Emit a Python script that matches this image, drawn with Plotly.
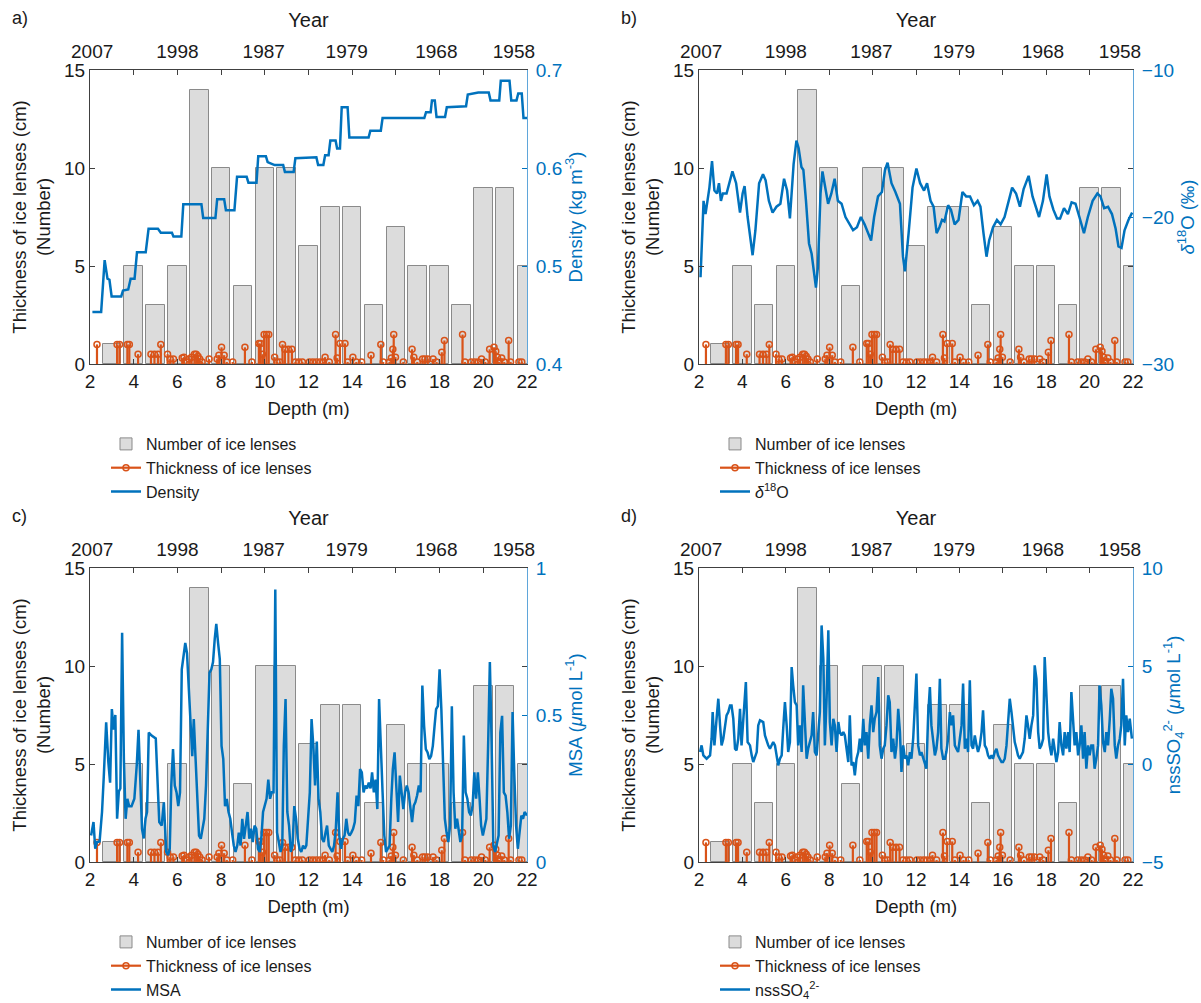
import plotly.graph_objects as go

# ---------------- data ----------------
BAR_DEPTH = [3, 4, 5, 6, 7, 8, 9, 10, 11, 12, 13, 14, 15, 16, 17, 18, 19, 20, 21, 22]
BAR_COUNT = [1, 5, 3, 5, 14, 10, 4, 10, 10, 6, 8, 8, 3, 7, 5, 5, 3, 9, 9, 5]

STEM_DEPTH = [2.32, 3.24, 3.35, 3.71, 3.80, 4.20, 4.79, 4.95, 5.11, 5.24,
              5.55, 5.67, 5.82, 6.22, 6.30, 6.43, 6.54, 6.65, 6.78, 6.86,
              6.94, 7.02, 7.13, 7.45, 7.82, 7.90, 8.02, 8.14, 8.26, 8.53,
              9.09, 9.41, 9.73, 9.81, 9.89, 9.97, 10.08, 10.18, 10.45, 10.56,
              10.69, 10.81, 10.92, 11.08, 11.24, 11.40, 11.56, 11.72, 12.04, 12.20,
              12.36, 12.52, 12.68, 12.76, 12.95, 13.24, 13.31, 13.44, 13.67, 13.79,
              14.03, 14.19, 14.43, 14.86, 15.31, 15.42, 15.71, 15.79, 15.86, 15.90,
              15.98, 16.34, 16.74, 16.82, 16.98, 17.22, 17.33, 17.46, 17.70, 17.86,
              18.10, 18.22, 19.05, 19.16, 19.45, 19.61, 19.77, 19.92, 20.09, 20.29,
              20.49, 20.57, 20.65, 20.72, 20.84, 20.96, 21.16, 21.25, 21.63, 21.76]
STEM_THICK = [1.0, 1.0, 1.0, 1.0, 1.0, 0.5, 0.5, 0.5, 0.5, 1.0,
              0.5, 0.25, 0.25, 0.3, 0.35, 0.1, 0.25, 0.35, 0.5, 0.5,
              0.4, 0.25, 0.1, 0.25, 0.25, 0.45, 0.85, 0.45, 0.1, 0.1,
              0.85, 0.1, 1.05, 1.05, 0.5, 1.5, 1.5, 1.5, 0.35, 0.1,
              0.1, 1.0, 0.75, 0.75, 0.75, 0.1, 0.1, 0.1, 0.1, 0.1,
              0.1, 0.1, 0.1, 0.35, 0.1, 1.5, 0.3, 1.05, 1.05, 0.1,
              0.35, 0.1, 0.1, 0.45, 1.0, 0.1, 0.1, 0.3, 0.75, 1.5,
              0.35, 0.1, 0.75, 0.35, 0.1, 0.25, 0.25, 0.25, 0.25, 0.1,
              0.6, 1.2, 1.5, 0.1, 0.1, 0.1, 0.1, 0.25, 0.1, 0.75,
              0.85, 0.65, 0.35, 0.1, 0.3, 0.1, 1.2, 0.1, 0.1, 0.1]

YEAR_POS = [2.1, 6.0, 9.95, 13.75, 17.85, 21.4]
YEAR_LABELS = ["2007", "1998", "1987", "1979", "1968", "1958"]
DEPTH_TICKS = [2, 4, 6, 8, 10, 12, 14, 16, 18, 20, 22]

DENS_DEPTH = [2.11, 2.51, 2.67, 2.80, 2.89, 2.99, 3.43, 3.51, 3.75, 3.86,
              4.04, 4.15, 4.55, 4.68, 5.11, 5.24, 5.75, 5.82, 6.18, 6.27,
              7.10, 7.18, 7.74, 7.82, 8.14, 8.22, 8.61, 8.73, 9.17, 9.25,
              9.62, 9.70, 10.05, 10.13, 10.29, 10.45, 10.84, 10.92, 11.32, 11.40,
              12.36, 12.44, 12.68, 12.76, 12.92, 13.00, 13.24, 13.31, 13.44, 13.52,
              13.79, 13.87, 14.75, 14.83, 15.31, 15.39, 17.30, 17.38, 17.59, 17.65,
              17.78, 17.86, 18.25, 18.33, 19.21, 19.29, 19.77, 20.25, 20.33, 20.73,
              20.80, 21.20, 21.28, 21.52, 21.60, 21.76, 21.84, 22.0]
DENS_VAL = [0.453, 0.453, 0.506, 0.487, 0.486, 0.469, 0.469, 0.475, 0.476, 0.487,
            0.487, 0.514, 0.514, 0.538, 0.538, 0.534, 0.534, 0.530, 0.530, 0.563,
            0.563, 0.549, 0.549, 0.568, 0.568, 0.557, 0.557, 0.591, 0.591, 0.585,
            0.585, 0.612, 0.612, 0.606, 0.6045, 0.603, 0.603, 0.596, 0.596, 0.610,
            0.611, 0.603, 0.603, 0.613, 0.613, 0.628, 0.628, 0.620, 0.620, 0.662,
            0.662, 0.631, 0.631, 0.638, 0.638, 0.651, 0.651, 0.657, 0.657, 0.669,
            0.669, 0.652, 0.652, 0.662, 0.663, 0.675, 0.677, 0.677, 0.669, 0.669,
            0.689, 0.689, 0.669, 0.669, 0.676, 0.676, 0.651, 0.651]

D18O_DEPTH = [2.07, 2.21, 2.30, 2.39, 2.48, 2.60, 2.71, 2.83, 2.92, 3.01,
              3.10, 3.27, 3.40, 3.54, 3.71, 3.89, 4.01, 4.10, 4.24, 4.47,
              4.60, 4.77, 4.95, 5.07, 5.22, 5.39, 5.57, 5.75, 5.92, 6.06,
              6.19, 6.28, 6.36, 6.49, 6.59, 6.72, 6.81, 6.93, 7.07, 7.19,
              7.30, 7.39, 7.48, 7.60, 7.69, 7.83, 7.95, 8.10, 8.25, 8.40,
              8.57, 8.75, 8.93, 9.10, 9.28, 9.46, 9.63, 9.81, 9.93, 10.07,
              10.25, 10.43, 10.57, 10.69, 10.87, 11.05, 11.26, 11.40, 11.49, 11.66,
              11.84, 12.02, 12.19, 12.37, 12.51, 12.67, 12.81, 12.95, 13.08, 13.20,
              13.31, 13.48, 13.61, 13.78, 13.96, 14.14, 14.31, 14.49, 14.67, 14.84,
              14.97, 15.11, 15.25, 15.37, 15.55, 15.73, 15.90, 16.08, 16.26, 16.43,
              16.61, 16.79, 16.96, 17.19, 17.37, 17.49, 17.67, 17.85, 18.02, 18.15,
              18.33, 18.50, 18.64, 18.82, 19.00, 19.17, 19.35, 19.53, 19.74, 19.92,
              20.14, 20.36, 20.50, 20.67, 20.85, 21.03, 21.20, 21.33, 21.47, 21.61,
              21.79, 21.96]
D18O_VAL = [-24.1, -18.9, -19.8, -18.9, -18.0, -16.2, -18.2, -18.4, -17.7, -18.9,
            -18.4, -18.4, -17.7, -16.9, -17.7, -19.7, -18.4, -17.9, -20.0, -22.6,
            -20.9, -17.7, -17.1, -17.5, -18.9, -19.7, -19.3, -19.1, -17.4, -18.2,
            -20.1, -18.4, -16.4, -14.8, -15.3, -16.6, -16.8, -18.9, -21.8, -22.5,
            -23.9, -24.8, -23.4, -18.4, -16.9, -18.0, -19.1, -18.4, -17.4, -18.9,
            -19.1, -20.0, -20.5, -20.9, -20.7, -20.0, -20.5, -21.2, -21.6, -20.0,
            -18.6, -18.3, -16.8, -16.3, -17.7, -18.3, -19.1, -22.7, -23.7, -21.1,
            -18.0, -16.7, -17.7, -18.2, -17.7, -18.9, -19.3, -21.1, -20.7, -20.2,
            -20.3, -19.2, -19.5, -20.5, -20.2, -18.3, -18.6, -18.6, -19.2, -18.9,
            -19.3, -21.1, -22.7, -21.6, -20.7, -20.2, -20.5, -20.0, -18.9, -18.0,
            -18.4, -19.3, -18.1, -17.2, -18.6, -19.1, -20.0, -18.9, -17.1, -18.6,
            -19.5, -20.1, -20.1, -19.4, -19.8, -19.0, -19.1, -20.0, -21.1, -20.0,
            -18.9, -18.4, -18.6, -19.4, -19.3, -19.8, -20.8, -22.0, -22.1, -20.9,
            -20.2, -19.7]

MSA_DEPTH = [2.05, 2.16, 2.24, 2.32, 2.44, 2.55, 2.63, 2.74, 2.84, 2.92,
             3.00, 3.08, 3.16, 3.24, 3.32, 3.39, 3.47, 3.55, 3.63, 3.71,
             3.79, 3.90, 4.03, 4.14, 4.22, 4.30, 4.38, 4.46, 4.54, 4.61,
             4.69, 4.82, 5.01, 5.17, 5.28, 5.38, 5.49, 5.57, 5.65, 5.72,
             5.80, 5.88, 5.96, 6.04, 6.12, 6.20, 6.28, 6.36, 6.44, 6.52,
             6.60, 6.68, 6.75, 6.83, 6.91, 6.99, 7.07, 7.15, 7.23, 7.31,
             7.39, 7.47, 7.55, 7.63, 7.71, 7.78, 7.86, 7.94, 8.02, 8.10,
             8.18, 8.26, 8.34, 8.42, 8.50, 8.58, 8.66, 8.74, 8.81, 8.89,
             8.97, 9.05, 9.13, 9.21, 9.29, 9.37, 9.45, 9.53, 9.61, 9.69,
             9.77, 9.85, 9.92, 10.00, 10.08, 10.16, 10.24, 10.32, 10.40, 10.48,
             10.56, 10.64, 10.72, 10.80, 10.87, 10.95, 11.03, 11.11, 11.19, 11.27,
             11.35, 11.43, 11.51, 11.59, 11.67, 11.75, 11.83, 11.90, 11.98, 12.06,
             12.14, 12.22, 12.30, 12.38, 12.46, 12.54, 12.62, 12.70, 12.78, 12.85,
             12.93, 13.01, 13.09, 13.17, 13.25, 13.33, 13.41, 13.49, 13.57, 13.65,
             13.73, 13.81, 13.88, 13.96, 14.04, 14.12, 14.20, 14.28, 14.36, 14.44,
             14.52, 14.60, 14.68, 14.76, 14.84, 14.91, 14.99, 15.07, 15.15, 15.23,
             15.31, 15.39, 15.47, 15.55, 15.63, 15.71, 15.79, 15.86, 15.94, 16.02,
             16.10, 16.18, 16.26, 16.34, 16.42, 16.50, 16.58, 16.66, 16.74, 16.82,
             16.89, 16.97, 17.05, 17.13, 17.21, 17.29, 17.37, 17.45, 17.53, 17.61,
             17.69, 17.77, 17.84, 17.92, 18.00, 18.08, 18.16, 18.24, 18.32, 18.40,
             18.48, 18.56, 18.64, 18.72, 18.80, 18.87, 18.95, 19.03, 19.11, 19.19,
             19.27, 19.35, 19.43, 19.51, 19.59, 19.67, 19.75, 19.83, 19.90, 19.98,
             20.06, 20.14, 20.22, 20.30, 20.38, 20.46, 20.54, 20.62, 20.70, 20.78,
             20.86, 20.94, 21.02, 21.10, 21.18, 21.26, 21.34, 21.42, 21.50, 21.58,
             21.66, 21.74, 21.82, 21.89, 22.00]
MSA_VAL = [0.09, 0.136, 0.045, 0.068, 0.07, 0.17, 0.29, 0.475, 0.34, 0.27,
           0.52, 0.45, 0.50, 0.147, 0.24, 0.25, 0.78, 0.35, 0.147, 0.215,
           0.19, 0.19, 0.215, 0.33, 0.45, 0.237, 0.113, 0.08, 0.147, 0.17,
           0.44, 0.43, 0.42, 0.136, 0.124, 0.203, 0.034, 0.023, 0.045, 0.26,
           0.384, 0.26, 0.237, 0.19, 0.237, 0.655, 0.71, 0.745, 0.71, 0.59,
           0.46, 0.36, 0.486, 0.35, 0.17, 0.09, 0.079, 0.113, 0.147, 0.26,
           0.44, 0.644, 0.655, 0.68, 0.76, 0.81, 0.746, 0.69, 0.395, 0.35,
           0.19, 0.215, 0.17, 0.147, 0.10, 0.056, 0.034, 0.056, 0.10, 0.056,
           0.147, 0.079, 0.124, 0.17, 0.079, 0.113, 0.068, 0.124, 0.113, 0.045,
           0.034, 0.09, 0.17, 0.19, 0.215, 0.28, 0.215, 0.237, 0.237, 0.927,
           0.10, 0.068, 0.034, 0.056, 0.395, 0.554, 0.17, 0.124, 0.034, 0.056,
           0.19, 0.147, 0.079, 0.045, 0.034, 0.056, 0.045, 0.056, 0.136, 0.237,
           0.486, 0.395, 0.26, 0.41, 0.215, 0.17, 0.079, 0.068, 0.10, 0.124,
           0.056, 0.045, 0.034, 0.056, 0.113, 0.237, 0.09, 0.045, 0.079, 0.09,
           0.147, 0.10, 0.09, 0.10, 0.113, 0.136, 0.226, 0.19, 0.316, 0.305,
           0.237, 0.26, 0.25, 0.27, 0.25, 0.305, 0.237, 0.28, 0.18, 0.554,
           0.42, 0.237, 0.09, 0.034, 0.045, 0.056, 0.215, 0.316, 0.373, 0.237,
           0.136, 0.294, 0.237, 0.18, 0.237, 0.26, 0.237, 0.18, 0.136, 0.192,
           0.203, 0.226, 0.26, 0.237, 0.60, 0.463, 0.384, 0.373, 0.35, 0.36,
           0.395, 0.463, 0.52, 0.53, 0.655, 0.52, 0.35, 0.147, 0.10, 0.068,
           0.124, 0.53, 0.237, 0.113, 0.147, 0.10, 0.068, 0.09, 0.43, 0.237,
           0.215, 0.17, 0.158, 0.192, 0.305, 0.215, 0.305, 0.215, 0.124, 0.09,
           0.124, 0.147, 0.395, 0.68, 0.407, 0.056, 0.034, 0.068, 0.09, 0.44,
           0.497, 0.237, 0.226, 0.17, 0.079, 0.124, 0.51, 0.294, 0.124, 0.045,
           0.10, 0.158, 0.147, 0.17, 0.158]

SO4_DEPTH = [2.05, 2.12, 2.20, 2.35, 2.51, 2.58, 2.63, 2.71, 2.81, 2.89,
             2.97, 3.04, 3.12, 3.20, 3.27, 3.35, 3.43, 3.50, 3.58, 3.66,
             3.73, 3.81, 3.89, 3.96, 4.04, 4.12, 4.16, 4.24, 4.35, 4.43,
             4.50, 4.66, 4.73, 4.81, 4.96, 5.04, 5.12, 5.19, 5.27, 5.42,
             5.50, 5.58, 5.65, 5.73, 5.81, 5.88, 5.96, 6.04, 6.11, 6.19,
             6.27, 6.34, 6.42, 6.50, 6.57, 6.65, 6.73, 6.80, 6.88, 6.96,
             7.03, 7.11, 7.19, 7.26, 7.34, 7.42, 7.50, 7.57, 7.65, 7.73,
             7.80, 7.88, 7.96, 8.03, 8.11, 8.19, 8.26, 8.34, 8.42, 8.49,
             8.57, 8.65, 8.72, 8.80, 8.88, 8.95, 9.03, 9.11, 9.18, 9.26,
             9.34, 9.41, 9.49, 9.57, 9.64, 9.72, 9.80, 9.87, 9.95, 10.03,
             10.10, 10.18, 10.26, 10.33, 10.41, 10.49, 10.56, 10.64, 10.72, 10.79,
             10.87, 10.95, 11.03, 11.10, 11.18, 11.26, 11.33, 11.41, 11.49, 11.56,
             11.64, 11.72, 11.79, 11.87, 11.95, 12.02, 12.10, 12.18, 12.25, 12.33,
             12.41, 12.48, 12.56, 12.64, 12.71, 12.79, 12.87, 12.94, 13.02, 13.10,
             13.17, 13.25, 13.33, 13.40, 13.48, 13.56, 13.63, 13.71, 13.79, 13.86,
             13.94, 14.02, 14.10, 14.17, 14.25, 14.33, 14.40, 14.48, 14.56, 14.63,
             14.71, 14.79, 14.86, 14.94, 15.02, 15.09, 15.17, 15.25, 15.32, 15.40,
             15.48, 15.55, 15.63, 15.71, 15.78, 15.86, 15.94, 16.01, 16.09, 16.17,
             16.24, 16.32, 16.40, 16.47, 16.55, 16.63, 16.70, 16.78, 16.86, 16.93,
             17.01, 17.09, 17.16, 17.24, 17.32, 17.40, 17.47, 17.55, 17.63, 17.70,
             17.78, 17.86, 17.93, 18.01, 18.09, 18.16, 18.24, 18.32, 18.39, 18.47,
             18.55, 18.62, 18.70, 18.78, 18.85, 18.93, 19.01, 19.08, 19.16, 19.24,
             19.31, 19.39, 19.47, 19.54, 19.62, 19.70, 19.77, 19.85, 19.93, 20.00,
             20.08, 20.16, 20.23, 20.31, 20.39, 20.46, 20.54, 20.62, 20.70, 20.77,
             20.85, 20.93, 21.00, 21.08, 21.16, 21.23, 21.31, 21.39, 21.46, 21.54,
             21.62, 21.69, 21.77, 21.85, 21.95]
SO4_VAL = [0.61, 0.95, 0.44, 0.27, 0.44, 1.29, 2.65, 0.95, 2.31, 3.33,
           1.97, 0.95, 1.29, 1.97, 2.48, 2.65, 2.99, 2.99, 2.31, 0.78,
           0.70, 1.29, 2.82, 0.95, 2.48, 3.67, 4.18, 1.12, 0.95, 0.44,
           0.10, 0.61, 1.97, 2.23, 2.14, 1.46, 1.12, 0.95, 0.78, 1.12,
           0.95, 0.44, -0.07, 0.27, 0.44, 1.80, 3.16, 1.97, 0.61, 1.12,
           4.95, 4.01, 3.16, 2.99, 0.95, 1.97, 0.61, 4.01, 1.63, 0.27,
           0.78, 1.12, 1.46, 2.65, 0.61, 0.44, 1.80, 2.65, 7.07, 5.37,
           0.95, 3.33, 6.82, 2.14, 0.95, 2.31, 1.97, 0.61, 2.14, 1.63,
           1.46, 1.63, 1.46, 0.61, 0.10, 2.48, -0.07, 0.10, -0.58, 0.27,
           0.61, 1.29, 0.61, 2.31, 0.95, 1.63, 0.27, 1.97, 2.99, 1.63,
           2.31, 2.65, 4.44, 0.95, 0.27, 0.78, 0.95, 1.97, 3.50, 3.16,
           0.61, 1.29, 0.27, 0.95, 2.82, 1.63, -0.41, 0.95, 0.27, 0.44,
           -0.07, 0.61, 0.27, 1.29, 3.16, 4.61, 0.95, 0.44, 0.61, 0.27,
           -0.07, -0.24, 2.48, 3.93, 1.97, 1.29, 0.44, 0.78, 1.63, 4.35,
           0.78, 0.27, 0.27, 0.61, 1.29, 2.65, 1.97, 2.48, 0.95, 0.78,
           0.61, 1.29, 1.97, 4.10, 0.78, 1.29, 0.61, 4.27, 0.95, 0.78,
           1.46, 0.95, 0.61, 0.95, 1.63, 2.74, 0.95, 0.78, 0.44, 0.27,
           0.44, 0.27, 0.61, 0.78, 0.44, 0.27, 0.10, 0.10, 0.27, 0.95,
           1.97, 3.33, 2.65, 1.97, 1.12, 0.78, 0.44, 0.27, 0.44, 0.61,
           1.29, 2.48, 1.97, 1.29, 1.97, 2.48, 5.03, 4.35, 1.63, 0.78,
           0.95, 1.29, 5.46, 3.67, 1.63, 0.95, 0.44, 1.29, 0.78, 0.10,
           0.61, 2.14, 0.95, 0.44, 1.63, 0.78, 1.63, 0.61, 3.67, 1.97,
           0.95, 1.63, 0.44, 0.95, 1.97, 0.27, 1.63, -0.24, 0.95, 0.44,
           0.95, 0.95, -0.24, 0.27, 0.95, 4.01, 2.99, 1.12, 0.61, 1.63,
           0.95, 2.31, 3.84, 3.33, 0.95, 0.27, 0.95, 1.29, 1.97, 4.35,
           0.95, 2.48, 1.63, 2.31, 1.29]

# ---------------- style ----------------
W, H = 1201, 1003
FONT = "Liberation Sans, Arial, sans-serif"
TXT = "#1a1a1a"
AX = "#404040"
BLUE = "#0072BD"
BLUE_LINE = "#5FA6DA"
ORANGE = "#D95319"
TS = 19   # tick label size
LS = 18.5 # axis title size

PANELS = [
    dict(label="a)", box=(90, 527, 70, 364), sd=DENS_DEPTH, sv=DENS_VAL, name="Density",
         rtitle="Density (kg m<sup>-3</sup>)", rrange=[0.4, 0.7], rticks=[0.4, 0.5, 0.6, 0.7], rstand=6),
    dict(label="b)", box=(699, 1133, 70, 364), sd=D18O_DEPTH, sv=D18O_VAL, name="<i>δ</i><sup>18</sup>O",
         rtitle="<i>δ</i><sup>18</sup>O (‰)", rrange=[-30, -10], rticks=[-30, -20, -10], rstand=4),
    dict(label="c)", box=(90, 527, 568, 862), sd=MSA_DEPTH, sv=MSA_VAL, name="MSA",
         rtitle="MSA (<i>μ</i>mol L<sup>-1</sup>)", rrange=[0, 1], rticks=[0, 0.5, 1], rstand=6),
    dict(label="d)", box=(699, 1133, 568, 862), sd=SO4_DEPTH, sv=SO4_VAL, name="nssSO<sub>4</sub><sup>2-</sup>",
         rtitle="nssSO<sub>4</sub><sup>2-</sup> (<i>μ</i>mol L<sup>-1</sup>)", rrange=[-5, 10], rticks=[-5, 0, 5, 10], rstand=4),
]

fig = go.Figure()
layout = {}
annotations = []

for i, p in enumerate(PANELS):
    n = i + 1
    xb = "x" if n == 1 else f"x{n}"
    yl = "y" if n == 1 else f"y{n}"
    yr = f"y{n + 4}"
    xt = f"x{n + 4}"
    leg = "legend" if n == 1 else f"legend{n}"
    x0, x1, y0, y1 = p["box"]

    fig.add_trace(go.Bar(x=BAR_DEPTH, y=BAR_COUNT, xaxis=xb, yaxis=yl, width=0.85,
                         marker=dict(color="#DCDCDC", line=dict(color="#8A8A8A", width=1)),
                         name="Number of ice lenses", legend=leg))
    sx, sy = [], []
    for d, t in zip(STEM_DEPTH, STEM_THICK):
        sx += [d, d, None]
        sy += [0, t, None]
    fig.add_trace(go.Scatter(x=sx, y=sy, mode="lines", xaxis=xb, yaxis=yl,
                             line=dict(color=ORANGE, width=2.2), showlegend=False, hoverinfo="skip"))
    fig.add_trace(go.Scatter(x=STEM_DEPTH, y=STEM_THICK, mode="markers", xaxis=xb, yaxis=yl,
                             marker=dict(symbol="circle-open", size=6, color=ORANGE, line=dict(width=1.5)),
                             showlegend=False))
    fig.add_trace(go.Scatter(x=[None], y=[None], mode="lines+markers", xaxis=xb, yaxis=yl,
                             line=dict(color=ORANGE, width=2.2),
                             marker=dict(symbol="circle-open", size=6, color=ORANGE, line=dict(width=1.5)),
                             name="Thickness of ice lenses", legend=leg))
    # blue series drawn on the (top year axis, right axis) pair: same depth range as bottom axis
    fig.add_trace(go.Scatter(x=p["sd"], y=p["sv"], mode="lines", xaxis=xt, yaxis=yr,
                             line=dict(color=BLUE, width=2.5), name=p["name"], legend=leg))

    tickfont = dict(family=FONT, size=TS, color=TXT)
    layout["xaxis" if n == 1 else f"xaxis{n}"] = dict(
        domain=[x0 / W, x1 / W], anchor=yl, range=[2, 22], tickvals=DEPTH_TICKS,
        ticks="inside", ticklen=5, tickcolor=AX, mirror="ticks", showline=True,
        linecolor=AX, linewidth=1, showgrid=False, zeroline=False, tickfont=tickfont,
        automargin=False,
        title=dict(text="Depth (m)", font=dict(family=FONT, size=LS, color=TXT), standoff=11))
    layout["yaxis" if n == 1 else f"yaxis{n}"] = dict(
        domain=[1 - y1 / H, 1 - y0 / H], anchor=xb, range=[0, 15], tickvals=[0, 5, 10, 15],
        ticks="inside", ticklen=5, tickcolor=AX, mirror="ticks", showline=True,
        linecolor=AX, linewidth=1, showgrid=False, zeroline=False, tickfont=tickfont,
        automargin=False,
        title=dict(text="Thickness of ice lenses (cm)<br>(Number)",
                   font=dict(family=FONT, size=LS, color=TXT), standoff=8))
    layout[f"yaxis{n + 4}"] = dict(
        overlaying=yl, anchor=xb, side="right", range=p["rrange"], tickvals=p["rticks"],
        ticks="inside", ticklen=5, tickcolor=BLUE, showline=True, linecolor=BLUE_LINE,
        linewidth=1, showgrid=False, zeroline=False, automargin=False, ticklabelstandoff=4,
        tickfont=dict(family=FONT, size=TS, color=BLUE),
        title=dict(text=p["rtitle"], font=dict(family=FONT, size=LS, color=BLUE), standoff=p["rstand"]))
    layout[f"xaxis{n + 4}"] = dict(
        overlaying=xb, anchor=yl, side="top", range=[2, 22], tickvals=YEAR_POS,
        ticktext=YEAR_LABELS, ticks="", showline=False, showgrid=False, zeroline=False,
        tickfont=tickfont, ticklabelstandoff=7, automargin=False,
        title=dict(text="Year", font=dict(family=FONT, size=20, color=TXT), standoff=8))
    layout[leg] = dict(x=(x0 + 16) / W, y=1 - (y1 + 63) / H, xanchor="left", yanchor="top",
                       bgcolor="rgba(0,0,0,0)", font=dict(family=FONT, size=16, color=TXT),
                       tracegroupgap=0, itemclick=False)
    annotations.append(dict(text=p["label"], x=(x0 - 80) / W, y=1 - (y0 - 52) / H,
                            xref="paper", yref="paper", xanchor="left", yanchor="middle",
                            showarrow=False, font=dict(family=FONT, size=18, color=TXT)))

fig.update_layout(**layout)
fig.update_layout(width=W, height=H, margin=dict(l=0, r=0, t=0, b=0, autoexpand=False),
                  paper_bgcolor="white", plot_bgcolor="rgba(0,0,0,0)",
                  font=dict(family=FONT, size=17, color=TXT),
                  annotations=annotations, showlegend=True, bargap=0)
fig.write_html("out.html")
